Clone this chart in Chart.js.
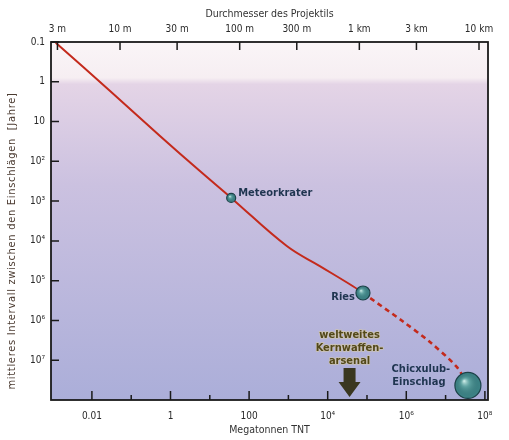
<!DOCTYPE html>
<html>
<head>
<meta charset="utf-8">
<script src="https://cdn.jsdelivr.net/npm/chart.js@4"></script>
<style>
  html, body { margin: 0; padding: 0; background: #fff; }
  #wrap { width: 509px; height: 440px; }
</style>
</head>
<body>
<div id="wrap"><canvas id="impactChart"></canvas></div>
<script>
// solid curve (energy in megatons TNT vs. mean interval in years)
const curveEnergyMt = [0.0012, 0.029, 0.54, 5.6, 35, 910, 6300, 44000, 79000];
const curveIntervalYears = [0.105, 1.7, 23, 176, 830, 13500, 43000, 138000, 204000];

// dashed extrapolation Ries -> Chicxulub
const dashedEnergyMt = [79000, 810000, 4000000, 19500000, 37000000];
const dashedIntervalYears = [204000, 1050000, 3500000, 15000000, 43000000];

// named impacts
const craterNames = ['Meteorkrater', 'Ries', 'Chicxulub-Einschlag'];
const craterEnergyMt = [35, 79000, 37000000];
const craterIntervalYears = [830, 204000, 43000000];
const craterSizes = [4.5, 7, 13];

const nuclearArsenalMt = 36000;
const nuclearLabel = ['weltweites', 'Kernwaffen-', 'arsenal'];

// axis ticks
const yTickValues = [0.1, 1, 10, 1e2, 1e3, 1e4, 1e5, 1e6, 1e7];
const yTickLabels = ['0.1', '1', '10', '10²', '10³', '10⁴', '10⁵', '10⁶', '10⁷'];
const xTickValues = [1e-2, 1e-1, 1, 10, 1e2, 1e3, 1e4, 1e5, 1e6, 1e7, 1e8];
const xTickLabels = ['0.01', '', '1', '', '100', '', '10⁴', '', '10⁶', '', '10⁸'];
const diameterValues = [3, 10, 30, 100, 300, 1000, 3000, 10000];
const diameterLabels = ['3 m', '10 m', '30 m', '100 m', '300 m', '1 km', '3 km', '10 km'];
const yTitle = 'mittleres Intervall zwischen den Einschlägen  [Jahre]';

const FONT = "'DejaVu Sans Condensed', 'Liberation Sans Narrow', Lato, sans-serif";
const RED = '#c42a1c';

function pts(xs, ys) {
  return xs.map((x, i) => ({ x: x, y: ys[i] }));
}

const backdrop = {
  id: 'backdrop',
  beforeDraw(chart) {
    const { ctx, chartArea: a } = chart;
    const g = ctx.createLinearGradient(0, a.top, 0, a.bottom);
    g.addColorStop(0, '#faf5f7');
    g.addColorStop(0.1, '#f6eef2');
    g.addColorStop(0.118, '#e4d4e6');
    g.addColorStop(0.4, '#cbc1e0');
    g.addColorStop(1, '#abaed9');
    ctx.save();
    ctx.fillStyle = g;
    ctx.fillRect(a.left, a.top, a.right - a.left, a.bottom - a.top);
    ctx.restore();
  }
};

const frame = {
  id: 'frame',
  afterDatasetsDraw(chart) {
    const { ctx, chartArea: a, scales } = chart;
    ctx.save();

    // sphere highlights on the impact markers
    const meta = chart.getDatasetMeta(0);
    meta.data.forEach((el, i) => {
      const r = craterSizes[i];
      const g = ctx.createRadialGradient(el.x - r * 0.3, el.y - r * 0.35, 0, el.x, el.y, r);
      g.addColorStop(0, 'rgba(225,250,245,0.95)');
      g.addColorStop(0.35, 'rgba(120,185,180,0.5)');
      g.addColorStop(1, 'rgba(20,60,65,0)');
      ctx.fillStyle = g;
      ctx.beginPath();
      ctx.arc(el.x, el.y, r, 0, Math.PI * 2);
      ctx.fill();
    });

    // impact labels
    ctx.fillStyle = '#1f3550';
    ctx.font = 'bold 11px ' + FONT;
    ctx.textBaseline = 'middle';
    let p = meta.data[0];
    ctx.textAlign = 'left';
    ctx.fillText(craterNames[0], p.x + 7, p.y - 5);
    p = meta.data[1];
    ctx.textAlign = 'right';
    ctx.fillText(craterNames[1], p.x - 8, p.y + 4);
    p = meta.data[2];
    ctx.textAlign = 'center';
    ctx.fillText('Chicxulub-', p.x - 47, p.y - 16);
    ctx.fillText('Einschlag', p.x - 49, p.y - 3);

    // nuclear arsenal label + arrow
    const nx = scales.x.getPixelForValue(nuclearArsenalMt);
    ctx.fillStyle = '#52481a';
    ctx.strokeStyle = 'rgba(235,215,130,0.45)';
    ctx.lineWidth = 1.5;
    nuclearLabel.forEach((t, i) => {
      const y = a.bottom - 65 + i * 13;
      ctx.strokeText(t, nx, y);
      ctx.fillText(t, nx, y);
    });
    ctx.fillStyle = '#3a3720';
    ctx.beginPath();
    ctx.moveTo(nx - 6, a.bottom - 32);
    ctx.lineTo(nx + 6, a.bottom - 32);
    ctx.lineTo(nx + 6, a.bottom - 18);
    ctx.lineTo(nx + 11, a.bottom - 18);
    ctx.lineTo(nx, a.bottom - 3);
    ctx.lineTo(nx - 11, a.bottom - 18);
    ctx.lineTo(nx - 6, a.bottom - 18);
    ctx.closePath();
    ctx.fill();

    // inward tick marks
    ctx.strokeStyle = '#1a1a1a';
    ctx.lineWidth = 1.5;
    ctx.beginPath();
    yTickValues.forEach(v => {
      const y = scales.y.getPixelForValue(v);
      ctx.moveTo(a.left, y);
      ctx.lineTo(a.left + 8, y);
    });
    xTickValues.forEach((v, i) => {
      const x = scales.x.getPixelForValue(v);
      ctx.moveTo(x, a.bottom);
      ctx.lineTo(x, a.bottom - (xTickLabels[i] ? 9 : 5));
    });
    diameterValues.forEach(v => {
      const x = scales.x2.getPixelForValue(v);
      ctx.moveTo(x, a.top);
      ctx.lineTo(x, a.top + 8);
    });
    ctx.stroke();

    ctx.lineWidth = 1.8;
    ctx.strokeRect(a.left, a.top, a.right - a.left, a.bottom - a.top);

    // y-axis title (spaced lettering, centred slightly below the plot middle)
    ctx.translate(a.left - 39, (a.top + a.bottom) / 2 + 20);
    ctx.rotate(-Math.PI / 2);
    ctx.font = '11px ' + FONT;
    ctx.letterSpacing = '0.7px';
    ctx.fillStyle = '#4a3a30';
    ctx.textAlign = 'center';
    ctx.textBaseline = 'middle';
    ctx.fillText(yTitle, 0, 0);
    ctx.restore();
  }
};

const noGrid = { display: false, drawTicks: false, tickLength: 0 };

new Chart(document.getElementById('impactChart'), {
  type: 'scatter',
  data: {
    datasets: [
      {
        data: pts(craterEnergyMt, craterIntervalYears),
        pointRadius: craterSizes,
        pointBackgroundColor: '#3d8588',
        pointBorderColor: '#1c4248',
        pointBorderWidth: 1.2,
        showLine: false,
        order: 0
      },
      {
        data: pts(curveEnergyMt, curveIntervalYears),
        showLine: true,
        borderColor: RED,
        borderWidth: 2,
        pointRadius: 0,
        tension: 0.4,
        order: 1
      },
      {
        data: pts(dashedEnergyMt, dashedIntervalYears),
        showLine: true,
        borderColor: RED,
        borderWidth: 2.6,
        borderDash: [5, 4],
        pointRadius: 0,
        tension: 0.3,
        order: 2
      }
    ]
  },
  options: {
    responsive: true,
    maintainAspectRatio: false,
    animation: false,
    layout: { padding: { left: 0, right: 21, top: 0, bottom: 0 } },
    plugins: { legend: { display: false }, tooltip: { enabled: false } },
    scales: {
      x: {
        type: 'logarithmic',
        position: 'bottom',
        min: 0.00091,
        max: 1.2e8,
        grid: noGrid,
        border: { display: false },
        afterBuildTicks: s => { s.ticks = xTickValues.map(v => ({ value: v })); },
        afterFit: s => { s.height = 40; },
        ticks: {
          autoSkip: false, maxRotation: 0, padding: 10,
          color: '#2a2a2a', font: { family: FONT, size: 10 },
          callback: (v, i) => xTickLabels[i]
        },
        title: {
          display: true, text: 'Megatonnen TNT', color: '#333',
          font: { family: FONT, size: 10.5 }, padding: { top: 2, bottom: 3 }
        }
      },
      x2: {
        type: 'logarithmic',
        position: 'top',
        min: 2.65,
        max: 11890,
        grid: noGrid,
        border: { display: false },
        afterBuildTicks: s => { s.ticks = diameterValues.map(v => ({ value: v })); },
        afterFit: s => { s.height = 42; },
        ticks: {
          autoSkip: false, maxRotation: 0, padding: 7,
          color: '#2a2a2a', font: { family: FONT, size: 10 },
          callback: (v, i) => diameterLabels[i]
        },
        title: {
          display: true, text: 'Durchmesser des Projektils', color: '#333',
          font: { family: FONT, size: 10.5 }, padding: { top: 8, bottom: 2 }
        }
      },
      y: {
        type: 'logarithmic',
        reverse: true,
        min: 0.1,
        max: 1e8,
        grid: noGrid,
        border: { display: false },
        afterBuildTicks: s => { s.ticks = yTickValues.map(v => ({ value: v })); },
        afterFit: s => { s.width = 51; },
        ticks: {
          autoSkip: false, padding: 6,
          color: '#2a2a2a', font: { family: FONT, size: 10 },
          callback: (v, i) => yTickLabels[i]
        },
        title: { display: false }
      }
    }
  },
  plugins: [backdrop, frame]
});
</script>
</body>
</html>
